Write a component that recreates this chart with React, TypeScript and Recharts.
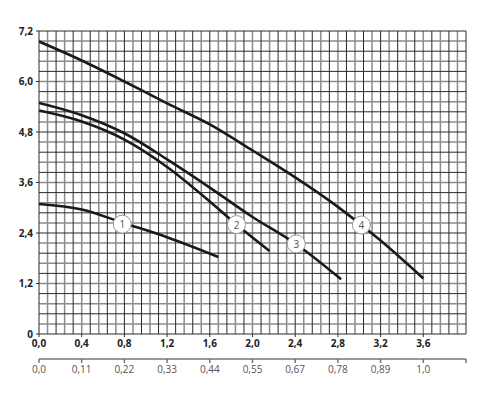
import React from 'react';
import { ComposedChart, Line, Scatter, XAxis, YAxis, CartesianGrid } from 'recharts';

if (typeof document !== 'undefined') {
  document.body.style.margin = '0';
}

// Flow Q (m3/h) ticks, head H (m) ticks, secondary flow (l/s) labels
const flowTicks = [0, 0.4, 0.8, 1.2, 1.6, 2.0, 2.4, 2.8, 3.2, 3.6];
const flowTicksLs = [0, 0.4, 0.8, 1.2, 1.6, 2.0, 2.4, 2.8, 3.2, 3.6, 4.0];
const flowLsLabels = ['0,0', '0,11', '0,22', '0,33', '0,44', '0,55', '0,67', '0,78', '0,89', '1,0', ''];
const headTicks = [0, 1.2, 2.4, 3.6, 4.8, 6.0, 7.2];

// Grid values (minor divisions): darker and lighter alternating lines
const gridXDark = [0, 0.16, 0.32, 0.48, 0.64, 0.8, 0.96, 1.12, 1.28, 1.44, 1.6, 1.76, 1.92, 2.08, 2.24, 2.4, 2.56, 2.72, 2.88, 3.04, 3.2, 3.36, 3.52, 3.68, 3.84, 4.0];
const gridXLight = [0.08, 0.24, 0.4, 0.56, 0.72, 0.88, 1.04, 1.2, 1.36, 1.52, 1.68, 1.84, 2.0, 2.16, 2.32, 2.48, 2.64, 2.8, 2.96, 3.12, 3.28, 3.44, 3.6, 3.76, 3.92];
const gridYDark = [0, 0.48, 0.96, 1.44, 1.92, 2.4, 2.88, 3.36, 3.84, 4.32, 4.8, 5.28, 5.76, 6.24, 6.72, 7.2];
const gridYLight = [0.24, 0.72, 1.2, 1.68, 2.16, 2.64, 3.12, 3.6, 4.08, 4.56, 5.04, 5.52, 6.0, 6.48, 6.96];

// Curve 1
const c1Q = [0, 0.4, 0.8, 1.2, 1.68];
const c1H = [3.09, 2.96, 2.63, 2.3, 1.83];
// Curve 2
const c2Q = [0, 0.4, 0.8, 1.2, 1.6, 1.85, 2.16];
const c2H = [5.31, 5.05, 4.62, 3.97, 3.15, 2.6, 1.97];
// Curve 3
const c3Q = [0, 0.4, 0.8, 1.2, 1.6, 2.0, 2.4, 2.83];
const c3H = [5.49, 5.2, 4.77, 4.15, 3.48, 2.78, 2.15, 1.3];
// Curve 4
const c4Q = [0, 0.4, 0.8, 1.2, 1.6, 2.0, 2.4, 2.8, 3.2, 3.6];
const c4H = [6.95, 6.5, 6.0, 5.48, 4.98, 4.36, 3.72, 3.02, 2.22, 1.32];

// Curve label markers
const markerNames = ['1', '2', '3', '4'];
const markerQ = [0.78, 1.85, 2.41, 3.02];
const markerH = [2.61, 2.6, 2.14, 2.59];

const toSeries = (q: number[], h: number[]) => q.map((x, i) => ({ x, y: h[i] }));
const curves = [
  toSeries(c1Q, c1H),
  toSeries(c2Q, c2H),
  toSeries(c3Q, c3H),
  toSeries(c4Q, c4H),
];
const markers = markerNames.map((n, i) => ({ x: markerQ[i], y: markerH[i], n }));

const fmt = (v: number) => (v === 0 ? '0' : v.toFixed(1).replace('.', ','));
const fmtX = (v: number) => v.toFixed(1).replace('.', ',');

const FONT = '"Open Sans", "DejaVu Sans", sans-serif';

const MarkerShape = (props: any) => {
  const { cx, cy, payload } = props;
  if (cx == null || cy == null) return null;
  return (
    <g>
      <circle cx={cx} cy={cy} r={9} fill="#ffffff" stroke="#9a9a9a" strokeWidth={1} />
      <text
        x={cx}
        y={cy}
        textAnchor="middle"
        dominantBaseline="central"
        fontSize={10}
        fill="#555"
        fontFamily={FONT}
      >
        {payload.n}
      </text>
    </g>
  );
};

export default function App() {
  return (
    <ComposedChart width={500} height={400} margin={{ top: 31, right: 34, left: 0, bottom: 11 }}>
      <CartesianGrid
        xAxisId="a"
        verticalValues={gridXLight}
        horizontalValues={gridYLight}
        stroke="#8c8c8c"
        strokeWidth={1.5}
        strokeDasharray=""
      />
      <CartesianGrid
        xAxisId="a"
        verticalValues={gridXDark}
        horizontalValues={gridYDark}
        stroke="#2a2a2a"
        strokeWidth={1}
        strokeDasharray=""
      />
      <XAxis
        xAxisId="a"
        dataKey="x"
        type="number"
        domain={[0, 4]}
        ticks={flowTicks}
        interval={0}
        tickFormatter={fmtX}
        axisLine={false}
        tickLine={{ stroke: '#333' }}
        tickSize={3}
        tickMargin={3}
        height={25}
        allowDataOverflow
        tick={{ fontSize: 10, fontWeight: 700, fill: '#222', fontFamily: FONT }}
      />
      <XAxis
        xAxisId="b"
        dataKey="x"
        type="number"
        domain={[0, 4]}
        ticks={flowTicksLs}
        interval={0}
        tickFormatter={(v: number, i: number) => flowLsLabels[i]}
        axisLine={{ stroke: '#777', strokeWidth: 1.5 }}
        tickLine={{ stroke: '#777', strokeWidth: 1.5 }}
        tickSize={4}
        tickMargin={3}
        height={30}
        allowDataOverflow
        tick={{ fontSize: 10, fill: '#555', fontFamily: FONT }}
      />
      <YAxis
        dataKey="y"
        type="number"
        domain={[0, 7.2]}
        ticks={headTicks}
        interval={0}
        tickFormatter={fmt}
        axisLine={false}
        tickLine={{ stroke: '#333' }}
        tickSize={3}
        tickMargin={3}
        width={39}
        allowDataOverflow
        tick={{ fontSize: 10, fontWeight: 700, fill: '#222', fontFamily: FONT }}
      />
      {curves.map((d, i) => (
        <Line
          key={i}
          xAxisId="a"
          data={d}
          dataKey="y"
          type="monotone"
          stroke="#1a1a1a"
          strokeWidth={2.6}
          dot={false}
          activeDot={false}
          isAnimationActive={false}
        />
      ))}
      <Scatter
        xAxisId="a"
        data={markers}
        dataKey="y"
        shape={MarkerShape}
        isAnimationActive={false}
      />
    </ComposedChart>
  );
}
